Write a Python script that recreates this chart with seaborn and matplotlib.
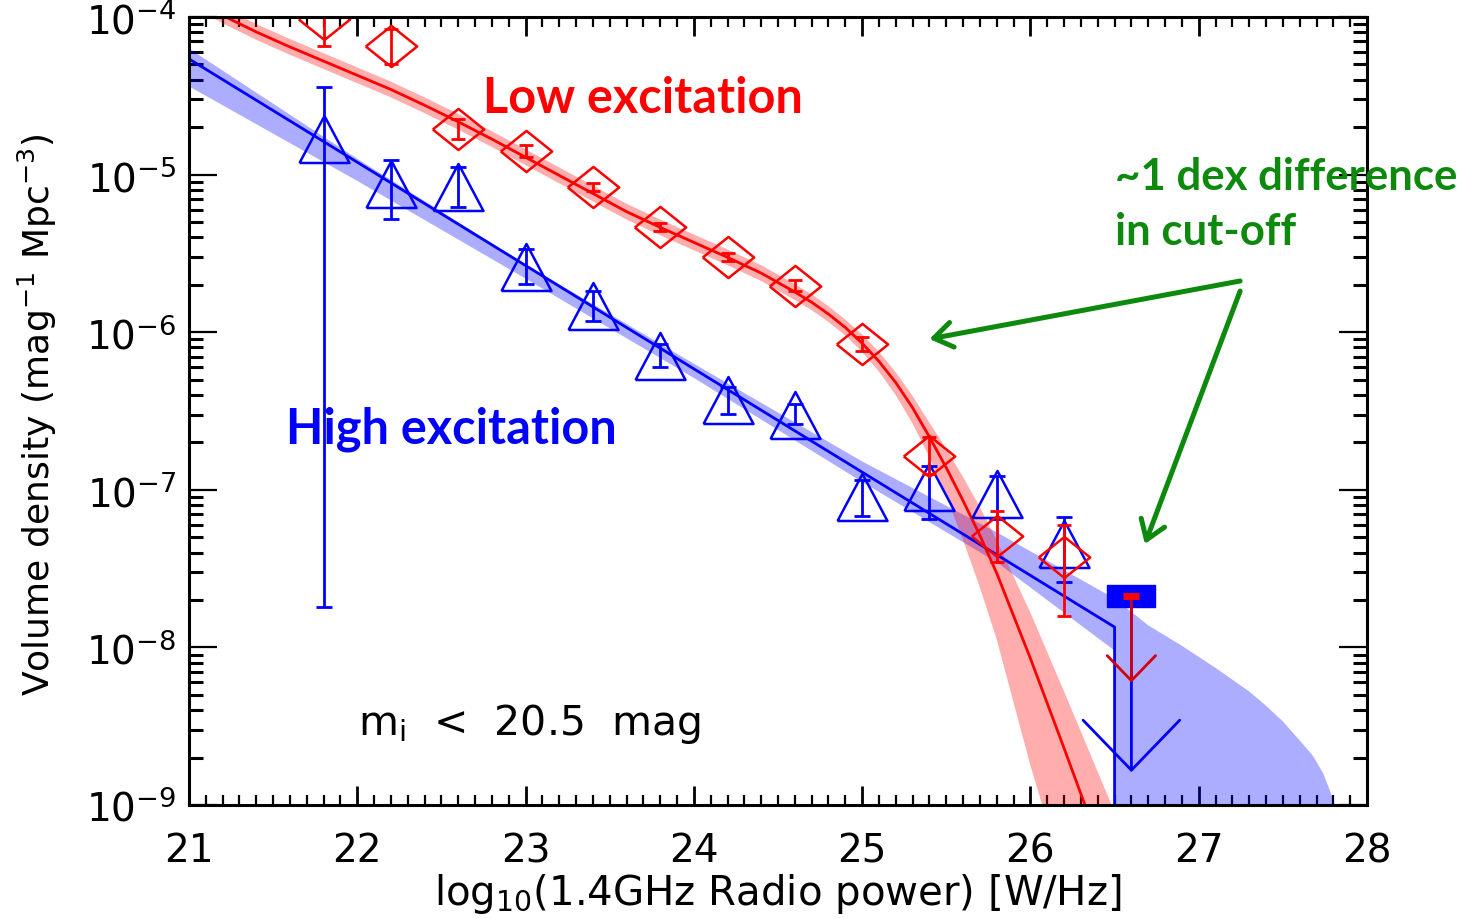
import numpy as np
import pandas as pd
import matplotlib
matplotlib.use("Agg")
import matplotlib.pyplot as plt
import seaborn as sns
from matplotlib.patches import ArrowStyle
from matplotlib.ticker import LogLocator, MultipleLocator, NullFormatter

# ---------------- data ----------------
bins = [21.8, 22.2, 22.6, 23.0, 23.4, 23.8, 24.2, 24.6, 25.0, 25.4, 25.8, 26.2]

lerg_phi = [9.7e-5, 6.5e-5, 1.95e-5, 1.41e-5, 8.3e-6, 4.66e-6, 3.0e-6, 1.96e-6, 8.4e-7, 1.64e-7, 5.1e-8, 3.75e-8]
lerg_lo = [6.5e-5, 5.0e-5, 1.68e-5, 1.29e-5, 7.9e-6, 4.38e-6, 2.83e-6, 1.82e-6, 7.6e-7, 1.26e-7, 3.48e-8, 1.58e-8]
lerg_hi = [1.5e-4, 8.4e-5, 2.25e-5, 1.54e-5, 8.85e-6, 4.93e-6, 3.18e-6, 2.14e-6, 9.3e-7, 2.16e-7, 7.33e-8, 6.0e-8]

herg_phi = [1.68e-5, 8.7e-6, 8.3e-6, 2.6e-6, 1.47e-6, 7.1e-7, 3.7e-7, 3.0e-7, 9.0e-8, 1.04e-7, 9.4e-8, 4.5e-8]
herg_lo = [1.8e-8, 5.25e-6, 6.2e-6, 2.02e-6, 1.18e-6, 6.0e-7, 3.03e-7, 2.63e-7, 6.8e-8, 6.5e-8, 6.5e-8, 2.6e-8]
herg_hi = [3.6e-5, 1.24e-5, 1.12e-5, 3.37e-6, 1.82e-6, 8.4e-7, 4.5e-7, 3.5e-7, 1.15e-7, 1.41e-7, 1.22e-7, 6.7e-8]

limit_bin = 26.6
lerg_limit = 2.12e-8
herg_limit = 2.13e-8

# model fits (log10 volume density)
red_fit_x = [21.0, 21.2, 21.4, 21.6, 21.8, 22.0, 22.2, 22.4, 22.6, 22.8, 23.0, 23.2, 23.4,
             23.6, 23.8, 24.0, 24.2, 24.4, 24.6, 24.7, 24.8, 24.9, 25.0, 25.1, 25.2, 25.3,
             25.4, 25.5, 25.6, 25.7, 25.8, 25.9, 26.0, 26.2, 26.4, 26.6]
red_fit = [-3.87, -3.99, -4.095, -4.19, -4.28, -4.37, -4.46, -4.56, -4.665, -4.775, -4.89,
           -5.005, -5.12, -5.235, -5.335, -5.43, -5.525, -5.625, -5.745, -5.81, -5.885,
           -5.97, -6.07, -6.185, -6.32, -6.48, -6.665, -6.86, -7.07, -7.29, -7.53, -7.80,
           -8.07, -8.64, -9.22, -9.80]
red_band_up = [0.05, 0.05, 0.05, 0.05, 0.05, 0.05, 0.05, 0.05, 0.05, 0.05, 0.05, 0.05, 0.05,
               0.05, 0.05, 0.05, 0.05, 0.05, 0.05, 0.05, 0.05, 0.05, 0.055, 0.06, 0.065, 0.075,
               0.09, 0.12, 0.15, 0.18, 0.21, 0.25, 0.29, 0.36, 0.43, 0.50]
red_band_down = [0.05, 0.05, 0.05, 0.05, 0.05, 0.05, 0.05, 0.05, 0.05, 0.05, 0.05, 0.05, 0.05,
                 0.05, 0.05, 0.05, 0.05, 0.05, 0.05, 0.05, 0.05, 0.05, 0.055, 0.065, 0.08, 0.10,
                 0.13, 0.18, 0.25, 0.33, 0.42, 0.55, 0.68, 0.82, 0.92, 1.0]

blue_fit_x = [21.0, 26.5, 26.5]
blue_fit = [-4.266, -7.871, -10.0]
blue_band_x_hi = [21.0, 22.0, 23.0, 24.0, 25.0, 25.8, 26.5, 26.7, 26.9, 27.1, 27.3,
                  27.4, 27.5, 27.6, 27.68, 27.74, 27.78, 27.81, 27.84]
blue_band_hi = [-4.20, -4.90, -5.57, -6.20, -6.82, -7.27, -7.69, -7.86, -7.99, -8.13, -8.28,
                -8.37, -8.47, -8.59, -8.69, -8.80, -8.91, -9.0, -10.0]
blue_band_x_lo = [21.0, 22.0, 23.0, 24.0, 25.0, 25.8, 26.5, 26.5]
blue_band_lo = [-4.44, -5.04, -5.66, -6.29, -6.95, -7.46, -8.02, -10.0]

xticks = [21, 22, 23, 24, 25, 26, 27, 28]

# ---------------- style ----------------
sns.set_theme(style="ticks")
plt.rcParams["font.family"] = ["DejaVu Sans"]
plt.rcParams["mathtext.fontset"] = "dejavusans"

W, H = 1466, 920
fig = plt.figure(figsize=(W / 100, H / 100), dpi=100)
fig.patch.set_facecolor("white")
ax = fig.add_axes([189 / W, 1 - 806 / H, (1367 - 189) / W, (806 - 18) / H])
ax.set_facecolor("white")

RED = "#ff0000"
BLUE = "#0000ff"
GREEN = "#0d8a0d"

rf = np.array(red_fit)
# bands
ax.fill(np.r_[blue_band_x_hi, blue_band_x_lo[::-1]],
        10 ** np.r_[blue_band_hi, blue_band_lo[::-1]],
        color=BLUE, alpha=0.32, lw=0, zorder=1)
ax.fill(np.r_[red_fit_x, red_fit_x[::-1]],
        10 ** np.r_[rf + np.array(red_band_up), (rf - np.array(red_band_down))[::-1]],
        color=RED, alpha=0.32, lw=0, zorder=1.1)

# fit lines
fits = pd.DataFrame({
    "x": red_fit_x + blue_fit_x,
    "y": list(10 ** rf) + list(10 ** np.array(blue_fit)),
    "pop": ["LERG"] * len(red_fit_x) + ["HERG"] * len(blue_fit_x),
})
sns.lineplot(data=fits, x="x", y="y", hue="pop", palette={"LERG": RED, "HERG": BLUE},
             estimator=None, sort=False, lw=2.0, legend=False, ax=ax, zorder=2)

ax.set_yscale("log")
ax.set_xlim(21, 28)
ax.set_ylim(1e-9, 1e-4)

diamond = [(-1, 0), (0, 0.8), (1, 0), (0, -0.8), (-1, 0)]
triangle = [(-1, -0.94), (1, -0.94), (0, 0.94), (-1, -0.94)]
rect = [(-1, -0.47), (1, -0.47), (1, 0.47), (-1, 0.47), (-1, -0.47)]

lp = np.array(lerg_phi)
hp = np.array(herg_phi)
ax.errorbar(bins, lp, yerr=[lp - np.array(lerg_lo), np.array(lerg_hi) - lp], fmt="none",
            ecolor=RED, elinewidth=2.0, capsize=5, capthick=2.0, zorder=4)
ax.errorbar(bins, hp, yerr=[hp - np.array(herg_lo), np.array(herg_hi) - hp], fmt="none",
            ecolor=BLUE, elinewidth=2.0, capsize=6, capthick=2.0, zorder=3)
ax.plot(bins, lp, ls="none", marker=diamond, ms=37, mfc="none", mec=RED, mew=1.8, zorder=4)
ax.plot(bins, hp, ls="none", marker=triangle, ms=36, mfc="none", mec=BLUE, mew=1.8, zorder=3)

# upper limits
ax.annotate("", xy=(limit_bin, herg_limit / 10 ** 1.12), xytext=(limit_bin, herg_limit),
            arrowprops=dict(arrowstyle=ArrowStyle("->", head_length=3.0, head_width=2.9),
                            color=BLUE, lw=2.0, shrinkA=0, shrinkB=0), zorder=3)
ax.plot([limit_bin], [herg_limit], ls="none", marker=rect, ms=35, mfc=BLUE, mec=BLUE, zorder=3)
ax.annotate("", xy=(limit_bin, lerg_limit / 10 ** 0.55), xytext=(limit_bin, lerg_limit),
            arrowprops=dict(arrowstyle=ArrowStyle("->", head_length=1.5, head_width=1.45),
                            color="#d00010", lw=2.0, shrinkA=0, shrinkB=0), zorder=4)
ax.plot([limit_bin], [lerg_limit], ls="none", marker="_", ms=12, mew=5, color=RED, zorder=4)

# green arrows
for start, tip in [((27.246, 10 ** -5.675), (25.40, 10 ** -6.043)),
                   ((27.246, 10 ** -5.739), (26.68, 10 ** -7.344))]:
    ax.annotate("", xy=tip, xytext=start,
                arrowprops=dict(arrowstyle=ArrowStyle("->", head_length=1.1, head_width=0.75),
                                color=GREEN, lw=3.6, shrinkA=0, shrinkB=0,
                                capstyle="round", joinstyle="round"), zorder=6)

# ticks
ax.set_xticks(xticks)
ax.xaxis.set_minor_locator(MultipleLocator(0.1))
ax.yaxis.set_major_locator(LogLocator(base=10, numticks=20))
ax.yaxis.set_minor_locator(LogLocator(base=10, subs=np.arange(2, 10), numticks=20))
ax.yaxis.set_minor_formatter(NullFormatter())
ax.tick_params(which="both", direction="in", top=True, right=True, colors="black",
               labelcolor="black")
ax.xaxis.set_tick_params(which="major", length=14, width=2, labelsize=28, pad=19)
ax.xaxis.set_tick_params(which="minor", length=7, width=1.6)
ax.yaxis.set_tick_params(which="major", length=20, width=1.6, labelsize=28, pad=9)
ax.yaxis.set_tick_params(which="minor", length=10, width=2.2)
for s in ax.spines.values():
    s.set_linewidth(2.2)
    s.set_color("black")
    s.set_zorder(7)
ax.set_xlabel("")
ax.set_ylabel("")
ax.xaxis.label.set_visible(False)
ax.yaxis.label.set_visible(False)

# axis titles
fig.text(50 / W, 1 - 415 / H, r"Volume density (mag$^{-1}$ Mpc$^{-3}$)", rotation=90,
         rotation_mode="anchor", ha="center", va="baseline", fontsize=26, color="black")
fig.text(778 / W, 1 - 905 / H, r"log$_{10}$(1.4GHz Radio power) [W/Hz]",
         ha="center", va="baseline", fontsize=29, color="black")
fig.text(358 / W, 1 - 735 / H, r"m$_{\rm i}$  <  20.5  mag", ha="left", va="baseline",
         fontsize=29.5, color="black")

# annotations
ann_font = ["Lato", "DejaVu Sans"]
fig.text(483 / W, 1 - 113 / H, "Low excitation", color=RED, fontsize=35,
         fontweight="bold", family=ann_font, ha="left", va="baseline")
fig.text(286 / W, 1 - 444 / H, "High excitation", color=BLUE, fontsize=35,
         fontweight="bold", family=ann_font, ha="left", va="baseline")
fig.text(1115 / W, 1 - 190 / H, "~1 dex difference", color=GREEN, fontsize=31.5,
         fontweight="bold", family=ann_font, ha="left", va="baseline")
fig.text(1115 / W, 1 - 245 / H, "in cut-off", color=GREEN, fontsize=31.5,
         fontweight="bold", family=ann_font, ha="left", va="baseline")

fig.savefig("out.png", dpi=100)
